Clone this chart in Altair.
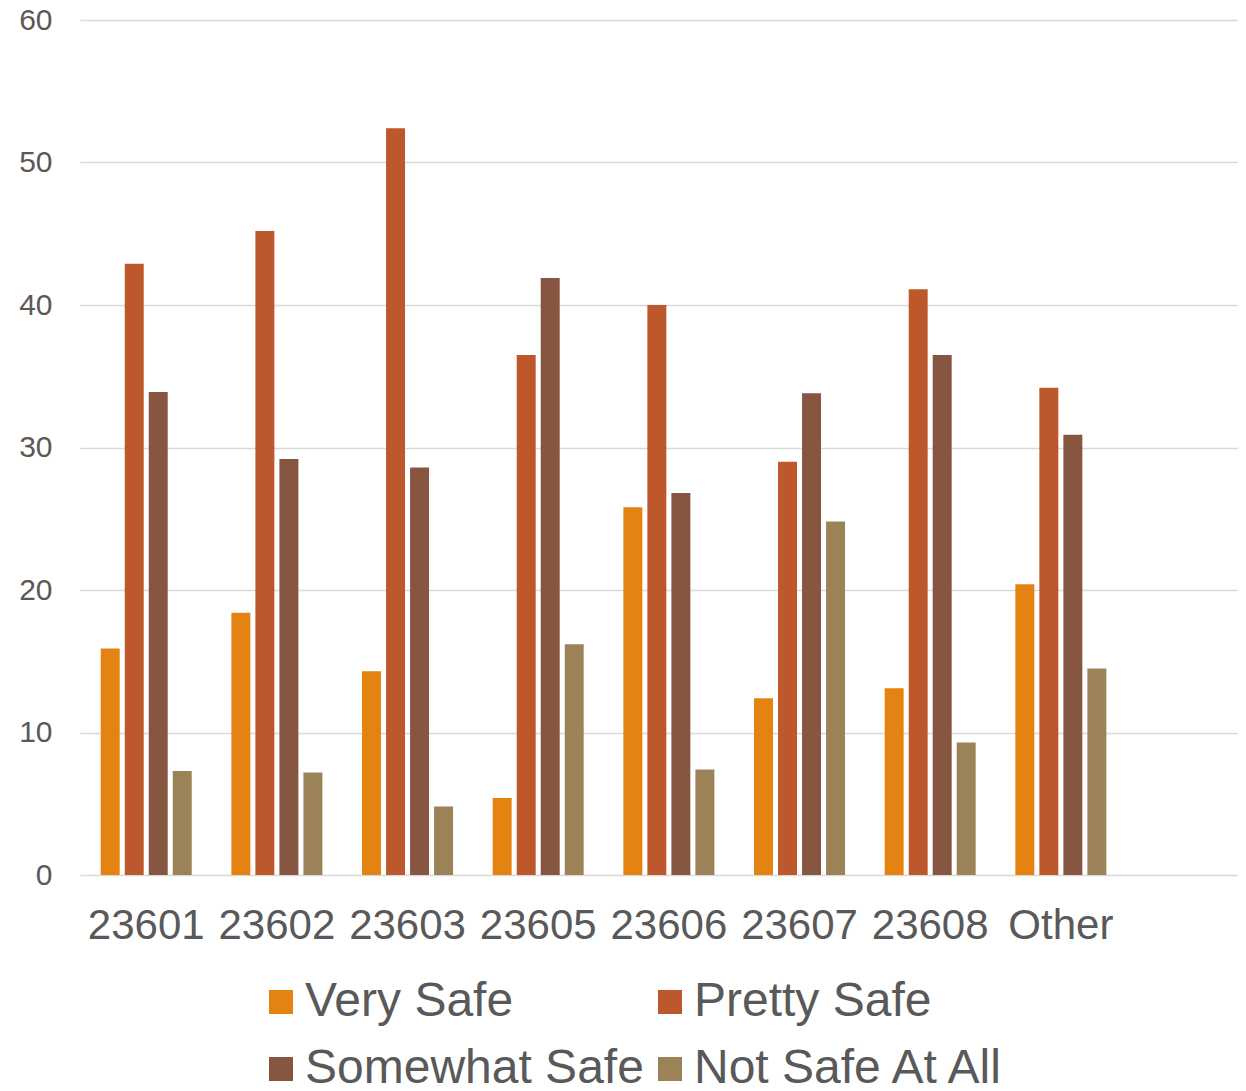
import altair as alt
import pandas as pd

zips = ["23601", "23602", "23603", "23605", "23606", "23607", "23608", "Other"]
series = ["Very Safe", "Pretty Safe", "Somewhat Safe", "Not Safe At All"]
very_safe = [15.9, 18.4, 14.3, 5.4, 25.8, 12.4, 13.1, 20.4]
pretty_safe = [42.9, 45.2, 52.4, 36.5, 40.0, 29.0, 41.1, 34.2]
somewhat_safe = [33.9, 29.2, 28.6, 41.9, 26.8, 33.8, 36.5, 30.9]
not_safe = [7.3, 7.2, 4.8, 16.2, 7.4, 24.8, 9.3, 14.5]
colors = ["#E48312", "#BD582C", "#865640", "#9B8357"]
y_ticks = [0, 10, 20, 30, 40, 50, 60]

rows = []
for name, vals in zip(series, [very_safe, pretty_safe, somewhat_safe, not_safe]):
    for z, v in zip(zips, vals):
        rows.append({"zip": z, "series": name, "value": v})
df = pd.DataFrame(rows)

FONT = "Liberation Sans"
GREY = "#595959"

chart = alt.Chart(df).mark_bar().encode(
    x=alt.X(
        "zip:N",
        sort=zips,
        scale=alt.Scale(domain=zips, paddingInner=0.3035, paddingOuter=0.5831, align=0.136),
        axis=alt.Axis(
            title=None, labelAngle=0, domain=False, ticks=False, grid=False,
            labelFontSize=42, labelColor=GREY, labelFont=FONT, labelPadding=30,
        ),
    ),
    xOffset=alt.XOffset("series:N", sort=series,
                        scale=alt.Scale(domain=series, paddingInner=0.21, paddingOuter=0)),
    y=alt.Y(
        "value:Q",
        scale=alt.Scale(domain=[0, 60], nice=False),
        axis=alt.Axis(
            values=y_ticks, title=None, domain=False, ticks=False,
            labelFontSize=30, labelColor=GREY, labelFont=FONT, labelPadding=28,
            gridColor="#D9D9D9", gridWidth=1.5,
        ),
    ),
    color=alt.Color(
        "series:N",
        sort=series,
        scale=alt.Scale(domain=series, range=colors),
        legend=alt.Legend(
            title=None, orient="none", legendX=177, legendY=958, columns=2,
            direction="horizontal",
            symbolType="square", symbolSize=576, symbolStrokeWidth=0,
            labelFontSize=48, labelFont=FONT, labelColor=GREY, labelLimit=0,
            labelOffset=0, columnPadding=2, rowPadding=19, padding=0,
        ),
    ),
).properties(
    width=1158,
    height=855,
    autosize=alt.AutoSizeParams(type="none"),
    padding={"left": 72, "top": 12, "right": 0, "bottom": 208},
).configure_view(stroke=None)

chart.save("out.html", embed_options={"renderer": "svg", "actions": False})
